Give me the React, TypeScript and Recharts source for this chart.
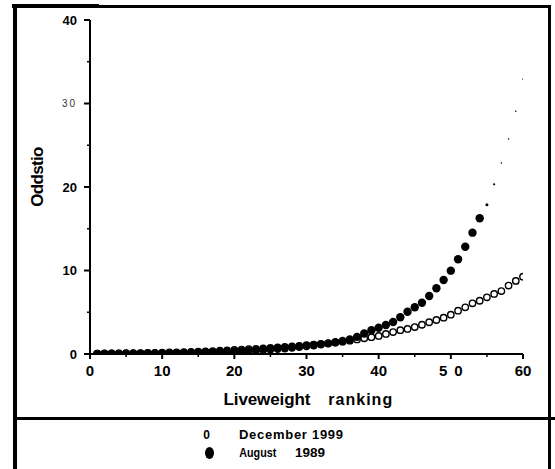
import React from 'react';
import { ScatterChart, Scatter, XAxis, YAxis, Legend, Label } from 'recharts';

// Liveweight ranking (1 = lightest)
const rankings = [
  1, 2, 3, 4, 5, 6, 7, 8, 9, 10,
  11, 12, 13, 14, 15, 16, 17, 18, 19, 20,
  21, 22, 23, 24, 25, 26, 27, 28, 29, 30,
  31, 32, 33, 34, 35, 36, 37, 38, 39, 40,
  41, 42, 43, 44, 45, 46, 47, 48, 49, 50,
  51, 52, 53, 54, 55, 56, 57, 58, 59, 60,
];

// Odds ratio, December 1999 survey
const december1999 = [
  0.05, 0.06, 0.07, 0.08, 0.09, 0.10, 0.11, 0.13, 0.14, 0.16,
  0.18, 0.20, 0.22, 0.25, 0.28, 0.31, 0.35, 0.39, 0.43, 0.48,
  0.52, 0.57, 0.62, 0.67, 0.72, 0.78, 0.84, 0.90, 0.97, 1.05,
  1.12, 1.20, 1.28, 1.38, 1.48, 1.60, 1.74, 1.88, 2.02, 2.16,
  2.40, 2.62, 2.85, 3.00, 3.23, 3.50, 3.80, 4.07, 4.35, 4.71,
  5.19, 5.59, 6.07, 6.38, 6.79, 7.19, 7.54, 8.20, 8.75, 9.26,
];

// Odds ratio, August 1989 survey
const august1989 = [
  0.02, 0.02, 0.03, 0.03, 0.04, 0.04, 0.05, 0.06, 0.07, 0.08,
  0.09, 0.10, 0.12, 0.14, 0.16, 0.18, 0.21, 0.24, 0.27, 0.31,
  0.35, 0.40, 0.45, 0.50, 0.56, 0.62, 0.69, 0.77, 0.86, 0.95,
  1.05, 1.15, 1.27, 1.40, 1.55, 1.75, 2.05, 2.45, 2.85, 3.15,
  3.47, 3.83, 4.40, 5.06, 5.59, 6.14, 6.95, 7.87, 8.86, 9.98,
  11.34, 12.85, 14.53, 16.25, 17.88, 20.32, 22.87, 25.75, 29.07, 32.9,
];

const xTicks = [0, 5, 10, 15, 20, 25, 30, 35, 40, 45, 50, 55, 60];
const yTicks = [0, 5, 10, 15, 20, 25, 30, 35, 40];
const seriesNames = ['December 1999', 'August 1989'];
const yAxisTitle = 'Oddstio';
const xAxisTitle = ['Liveweight', 'ranking'];

const decPoints = rankings.map((r, i) => ({ x: r, y: december1999[i] }));
const augPoints = rankings.map((r, i) => ({ x: r, y: august1989[i] }));

const FONT = '"Liberation Sans", Arial, Helvetica, sans-serif';
const TICK_SIZE = 6;
const TICK_MARGIN = 6;
// August 1989 points beyond this ranking are printed as faint specks
const FAINT_FROM = 55;

function YTick(props: any) {
  const { x, y, payload } = props;
  const v = payload.value as number;
  const axisX = x + TICK_SIZE + TICK_MARGIN;
  const major = v % 10 === 0;
  const light = v === 30;
  return (
    <g>
      <line x1={axisX - (major ? 6 : 3)} x2={axisX} y1={y} y2={y} stroke="#000" strokeWidth={major ? 2 : 1.5} />
      {major && (
        <text
          x={axisX - 13}
          y={y}
          dy="0.36em"
          textAnchor="end"
          fontFamily={FONT}
          fontWeight={light ? 'normal' : 'bold'}
          fontSize={light ? 10 : 13}
          letterSpacing={light ? 2 : 0}
          fill={light ? '#333' : '#000'}
        >
          {v}
        </text>
      )}
    </g>
  );
}

function XTick(props: any) {
  const { x, y, payload } = props;
  const v = payload.value as number;
  const axisY = y - TICK_SIZE - TICK_MARGIN;
  const major = v % 10 === 0;
  const spaced = v === 50;
  return (
    <g>
      <line x1={x} x2={x} y1={axisY} y2={axisY + (major ? 5 : 3)} stroke="#000" strokeWidth={major ? 2 : 1.5} />
      {major && (
        <text
          x={x}
          y={axisY + 17}
          dx={spaced ? 3.5 : 0}
          dy="0.36em"
          textAnchor="middle"
          fontFamily={FONT}
          fontWeight="bold"
          fontSize={15}
          letterSpacing={spaced ? 7 : 0}
          fill="#000"
        >
          {v}
        </text>
      )}
    </g>
  );
}

function OpenDot(props: any) {
  const { cx, cy } = props;
  return <circle cx={cx} cy={cy} r={3.2} fill="#fff" stroke="#000" strokeWidth={1.4} />;
}

function FilledDot(props: any) {
  const { cx, cy, payload } = props;
  if (payload.x >= FAINT_FROM) {
    const r = payload.x === FAINT_FROM ? 1.5 : payload.x === FAINT_FROM + 1 ? 1.1 : 0.75;
    return <circle cx={cx} cy={cy} r={r} fill="#000" />;
  }
  return <circle cx={cx} cy={cy} r={4.2} fill="#000" />;
}

function YTitle(props: any) {
  const vb = props.viewBox || { x: 0, y: 20, width: 90, height: 334 };
  const cx = vb.x + 37;
  const cy = vb.y + vb.height / 2 - 10;
  return (
    <text
      x={cx}
      y={cy}
      transform={`rotate(-90, ${cx}, ${cy})`}
      textAnchor="middle"
      dominantBaseline="central"
      fontFamily={FONT}
      fontWeight="bold"
      fontSize={17}
      letterSpacing={-0.7}
      fill="#000"
    >
      {yAxisTitle}
    </text>
  );
}

function XTitle(props: any) {
  const vb = props.viewBox || { x: 90, y: 354, width: 433, height: 30 };
  const startX = vb.x + vb.width / 2 - 83;
  return (
    <text x={startX} y={vb.y + 50.5} textAnchor="start" fontFamily={FONT} fontWeight="bold" fill="#000">
      <tspan fontSize={17} letterSpacing={-0.1}>{xAxisTitle[0]}</tspan>
      <tspan dx={18} fontSize={16} letterSpacing={1}>{xAxisTitle[1]}</tspan>
    </text>
  );
}

function LegendBox() {
  return (
    <svg width={200} height={45} style={{ display: 'block', overflow: 'visible' }}>
      <text x={11.7} y={16.7} textAnchor="middle" fontFamily={FONT} fontWeight="bold" fontSize={12} fill="#000">0</text>
      <text x={44} y={16.7} fontFamily={FONT} fontWeight="bold" fontSize={13} textLength={104} lengthAdjust="spacing" fill="#000">
        {seriesNames[0]}
      </text>
      <ellipse cx={14.5} cy={31} rx={4.5} ry={6} fill="#000" />
      <text x={44.3} y={35} fontFamily={FONT} fontWeight="bold" fontSize={13} textLength={37} lengthAdjust="spacingAndGlyphs" fill="#000">
        {seriesNames[1].split(' ')[0]}
      </text>
      <text x={100} y={35} fontFamily={FONT} fontWeight="bold" fontSize={12} textLength={30} lengthAdjust="spacingAndGlyphs" fill="#000">
        {seriesNames[1].split(' ')[1]}
      </text>
    </svg>
  );
}

// Outer frame of the figure panel
function Frame() {
  return (
    <svg
      width={555}
      height={469}
      style={{ position: 'absolute', left: 0, top: 0, zIndex: 10, pointerEvents: 'none' }}
    >
      <rect x={12} y={4} width={87} height={4} fill="#000" />
      <rect x={98} y={5} width={453} height={3} fill="#000" />
      <rect x={13} y={4} width={4} height={465} fill="#000" />
      <rect x={548} y={5} width={3} height={464} fill="#000" />
      <rect x={14} y={417} width={541} height={3} fill="#000" />
    </svg>
  );
}

export default function App() {
  return (
    <div style={{ position: 'fixed', left: 0, top: 0, width: 555, height: 469, background: '#fff', overflow: 'hidden' }}>
      <ScatterChart width={555} height={469} margin={{ top: 20, right: 32, bottom: 85, left: 0 }}>
        <XAxis
          type="number"
          dataKey="x"
          domain={[0, 60]}
          ticks={xTicks}
          interval={0}
          height={30}
          tickSize={TICK_SIZE}
          tickMargin={TICK_MARGIN}
          tickLine={false}
          tick={<XTick />}
          axisLine={{ stroke: '#000', strokeWidth: 2 }}
          allowDataOverflow
        >
          <Label content={<XTitle />} />
        </XAxis>
        <YAxis
          type="number"
          dataKey="y"
          domain={[0, 40]}
          ticks={yTicks}
          interval={0}
          width={90}
          tickSize={TICK_SIZE}
          tickMargin={TICK_MARGIN}
          tickLine={false}
          tick={<YTick />}
          axisLine={{ stroke: '#000', strokeWidth: 2 }}
          allowDataOverflow
        >
          <Label content={<YTitle />} />
        </YAxis>
        <Scatter name={seriesNames[0]} data={decPoints} shape={<OpenDot />} isAnimationActive={false} />
        <Scatter name={seriesNames[1]} data={augPoints} shape={<FilledDot />} isAnimationActive={false} />
        <Legend
          layout="horizontal"
          verticalAlign="middle"
          align="center"
          content={<LegendBox />}
          wrapperStyle={{ position: 'absolute', left: 195, top: 422, width: 200, height: 45, margin: 0 }}
        />
      </ScatterChart>
      <Frame />
    </div>
  );
}
